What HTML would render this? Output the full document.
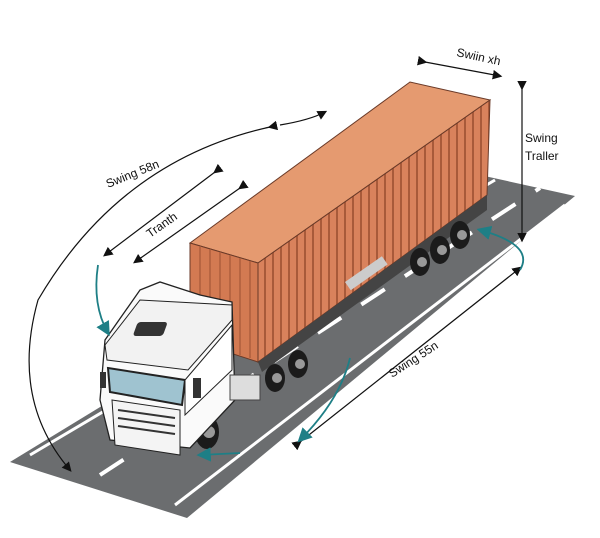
<!DOCTYPE html>
<html><head><style>body{margin:0;background:#fff}svg{display:block}text{font-family:"Liberation Sans",sans-serif;font-size:12px;fill:#111}</style></head><body>
<svg width="600" height="538" viewBox="0 0 600 538">
<defs>
<marker id="a" markerWidth="8" markerHeight="8" refX="6" refY="4" orient="auto"><path d="M0,0 L8,4 L0,8 Z" fill="#111"/></marker>
<marker id="t" markerWidth="8" markerHeight="8" refX="6" refY="4" orient="auto"><path d="M0,0 L8,4 L0,8 Z" fill="#1e7f86"/></marker>
<pattern id="rib" width="8" height="400" patternUnits="userSpaceOnUse"><rect width="8" height="400" fill="#d9825c"/><rect width="2" height="400" fill="#a85a3a"/></pattern>
</defs>
<polygon points="10,462 480,175 575,196 187,518" fill="#6b6d6f"/>
<polyline points="30,455 495,180" stroke="#fff" stroke-width="3" fill="none"/>
<polyline points="175,505 565,205" stroke="#fff" stroke-width="3" fill="none"/>
<line x1="100" y1="475" x2="540" y2="188" stroke="#fff" stroke-width="4" stroke-dasharray="28,24"/>
<polygon points="190,243 410,82 490,100 258,263" fill="#e59a70" stroke="#6a3a28"/>
<polygon points="258,263 490,100 487,195 258,362" fill="url(#rib)" stroke="#6a3a28"/>
<polygon points="190,243 258,263 258,362 190,340" fill="#d37a52" stroke="#6a3a28"/>
<g stroke="#a85a3a" stroke-width="1.3">
<line x1="200" y1="246" x2="200" y2="343"/><line x1="210" y1="249" x2="210" y2="346"/><line x1="220" y1="252" x2="220" y2="349"/><line x1="230" y1="255" x2="230" y2="352"/><line x1="240" y1="258" x2="240" y2="355"/><line x1="250" y1="261" x2="250" y2="358"/>
</g>
<polygon points="258,362 487,195 487,210 262,372" fill="#444"/>
<rect x="345" y="282" width="45" height="10" fill="#ccc" transform="rotate(-35 345 282)"/>
<g fill="#1b1b1b">
<ellipse cx="420" cy="262" rx="10" ry="14"/><ellipse cx="440" cy="250" rx="10" ry="14"/><ellipse cx="460" cy="235" rx="10" ry="14"/>
<ellipse cx="275" cy="378" rx="10" ry="14"/><ellipse cx="298" cy="364" rx="10" ry="14"/>
<ellipse cx="207" cy="432" rx="12" ry="17"/>
</g>
<g fill="#999"><circle cx="422" cy="262" r="5"/><circle cx="442" cy="250" r="5"/><circle cx="462" cy="235" r="5"/><circle cx="277" cy="378" r="5"/><circle cx="300" cy="364" r="5"/><circle cx="209" cy="432" r="6"/></g>
<polygon points="140,290 160,282 200,295 232,302 235,400 190,448 110,440 100,400 105,340" fill="#fafafa" stroke="#222" stroke-width="1.3"/>
<polygon points="105,345 140,300 232,305 232,320 188,370 107,360" fill="#f2f2f2" stroke="#222"/>
<rect x="135" y="322" width="30" height="14" rx="3" fill="#333" transform="skewX(-20) translate(120,0)"/>
<polygon points="108,368 185,380 182,405 110,392" fill="#9fc3d0" stroke="#222" stroke-width="2"/>
<polygon points="185,380 232,325 232,370 185,415" fill="#fff" stroke="#222"/>
<polygon points="112,400 180,410 180,455 115,445" fill="#f4f4f4" stroke="#222"/>
<g stroke="#333" stroke-width="2"><line x1="118" y1="410" x2="175" y2="418"/><line x1="118" y1="418" x2="175" y2="426"/><line x1="118" y1="426" x2="175" y2="434"/></g>
<rect x="193" y="378" width="8" height="20" fill="#333"/><rect x="100" y="372" width="6" height="16" fill="#333"/>
<rect x="230" y="375" width="30" height="25" fill="#ddd" stroke="#444"/>
<g stroke="#111" stroke-width="1.2" fill="none">
<path d="M270,127 Q120,160 38,300 Q10,400 70,470" marker-start="url(#a)" marker-end="url(#a)"/>
<path d="M280,125 Q310,120 325,112" marker-end="url(#a)"/>
<line x1="215" y1="172" x2="105" y2="255" marker-start="url(#a)" marker-end="url(#a)"/>
<line x1="240" y1="188" x2="135" y2="262" marker-start="url(#a)" marker-end="url(#a)"/>
<line x1="425" y1="62" x2="500" y2="76" marker-start="url(#a)" marker-end="url(#a)"/>
<line x1="522" y1="88" x2="522" y2="240" marker-start="url(#a)" marker-end="url(#a)"/>
<line x1="300" y1="442" x2="520" y2="268" marker-start="url(#a)" marker-end="url(#a)"/>
</g>
<g stroke="#1e7f86" stroke-width="1.8" fill="none">
<path d="M98,265 Q92,305 108,333" marker-end="url(#t)"/>
<path d="M350,358 Q340,400 300,440" marker-end="url(#t)"/>
<path d="M520,270 Q535,245 480,230" marker-end="url(#t)"/>
<path d="M240,453 L200,455" marker-end="url(#t)"/>
</g>
<text x="456" y="56" transform="rotate(12 456 56)">Swiin xh</text>
<text x="525" y="142">Swing</text>
<text x="525" y="160">Traller</text>
<text x="108" y="188" transform="rotate(-22 108 188)">Swing 58n</text>
<text x="150" y="238" transform="rotate(-35 150 238)">Tranth</text>
<text x="392" y="378" transform="rotate(-33 392 378)">Swing 55n</text>
</svg>
</body></html>
